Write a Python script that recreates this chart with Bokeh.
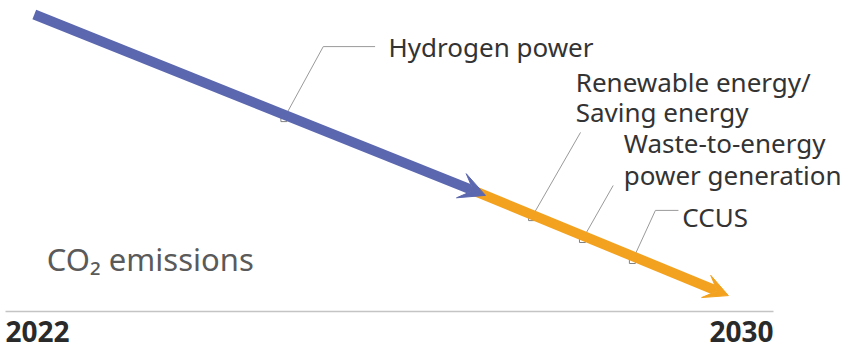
from bokeh.plotting import figure
from bokeh.models import Range1d, Arrow, VeeHead
from bokeh.core.properties import value
from bokeh.embed import file_html
from bokeh.resources import INLINE

# ---- data (x: year, y: CO2 emission index, 0 = baseline) ----
blue_x = [2022.30, 2027.00]
blue_y = [99.0, 38.7]
orange_x = [2026.85, 2029.53]
orange_y = [40.6, 5.3]

measure_names = ["Hydrogen power", "Renewable energy/\nSaving energy",
                 "Waste-to-energy\npower generation", "CCUS"]
measure_x = [2024.90, 2027.48, 2028.01, 2028.53]
measure_y = [64.3, 31.3, 24.0, 17.0]

# leader lines (marker -> elbow -> label)
leader_xs = [[2024.90, 2025.31, 2025.85],
             [2027.48, 2027.99],
             [2028.01, 2028.33],
             [2028.53, 2028.77, 2029.01]]
leader_ys = [[64.3, 88.3, 88.3],
             [31.3, 59.7],
             [24.0, 42.0],
             [17.0, 33.7, 33.7]]

# label text lines (x, y)
label_text = ["Hydrogen power", "Renewable energy/", "Saving energy",
              "Waste-to-energy", "power generation", "CCUS"]
label_x = [2025.99, 2027.94, 2027.94, 2028.44, 2028.44, 2029.05]
label_y = [88.3, 76.6, 66.6, 56.2, 45.6, 31.5]

start_year, end_year = 2022, 2030
year_labels = ["2022", "2030"]

BLUE = "#5B67AF"
ORANGE = "#F2A21E"
FONT = "Noto Sans"

p = figure(width=848, height=349, output_backend="svg", toolbar_location=None,
           x_range=Range1d(2021.94792, 2030.78125), y_range=Range1d(-12.667, 103.667),
           x_axis_location=None, y_axis_location=None, min_border=0,
           outline_line_color=None, background_fill_color="white",
           border_fill_color="white")
p.grid.visible = False

# baseline
p.line(x=[start_year, end_year], y=[0, 0], line_color="#c4c4c4", line_width=1.5)

# arrows (orange below blue)
p.add_layout(Arrow(x_start=orange_x[0], y_start=orange_y[0], x_end=orange_x[1], y_end=orange_y[1],
                   line_color=ORANGE, line_width=10,
                   end=VeeHead(size=24, fill_color=ORANGE, line_color=ORANGE, line_width=1)))
p.add_layout(Arrow(x_start=blue_x[0], y_start=blue_y[0], x_end=blue_x[1], y_end=blue_y[1],
                   line_color=BLUE, line_width=10,
                   end=VeeHead(size=26, fill_color=BLUE, line_color=BLUE, line_width=1)))

# leader lines
p.multi_line(xs=leader_xs, ys=leader_ys, line_color="#9a9a9a", line_width=1)

# markers
p.scatter(x=measure_x, y=measure_y, marker="square", size=6,
          fill_color="white", line_color="#808080", line_width=1)

# labels
p.text(x=label_x, y=label_y, text=label_text, text_font=value(FONT),
       text_font_size="26px", text_color="#333333", text_baseline="alphabetic",
       text_align="left")

# CO2 emissions
p.text(x=[2022.43], y=[17.5], text=["CO\u2082 emissions"], text_font=value(FONT),
       text_font_size="31px", text_color="#5a5a5a", text_baseline="alphabetic",
       text_align="left")

# year labels
p.text(x=[start_year], y=[-6.6], text=[year_labels[0]], text_font=value(FONT),
       text_font_size="28px", text_font_style="bold", text_color="#2a2a2a",
       text_baseline="alphabetic", text_align="left")
p.text(x=[end_year], y=[-6.6], text=[year_labels[1]], text_font=value(FONT),
       text_font_size="28px", text_font_style="bold", text_color="#2a2a2a",
       text_baseline="alphabetic", text_align="right")

open("out.html", "w").write(file_html(p, INLINE))
